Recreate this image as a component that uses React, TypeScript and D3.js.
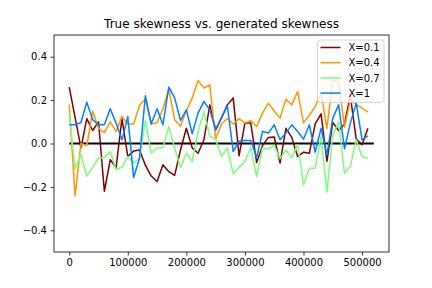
import React, { useEffect, useRef } from 'react';
import * as d3 from 'd3';

// sample positions (0 .. 510000, step 10000)
const steps: number[] = d3.range(0, 520000, 10000);

const skew01: number[] = [
  0.26, 0.12, -0.02, 0.115, 0.06, 0.1, -0.22, -0.075, -0.11, 0.115,
  -0.06, -0.035, -0.03, -0.1, -0.15, -0.175, -0.098, -0.13, -0.147, -0.03,
  0.07, -0.02, -0.045, 0.017, 0.178, 0.063, 0.117, 0.178, 0.21, -0.057,
  0.094, 0.094, -0.088, -0.01, 0.028, 0.03, -0.09, 0.07, 0.028, -0.06,
  -0.04, -0.045, 0.09, 0.137, -0.083, 0.097, 0.06, 0.09, 0.22, 0.02,
  -0.006, 0.07,
];
const skew04: number[] = [
  0.18, -0.24, 0.0, -0.01, 0.15, 0.07, 0.05, 0.1, 0.055, 0.125,
  0.09, 0.09, 0.175, 0.205, 0.09, 0.095, 0.16, 0.25, 0.11, 0.08,
  0.15, 0.21, 0.29, 0.255, 0.27, 0.02, 0.09, 0.115, 0.09, 0.115,
  0.094, 0.105, 0.078, 0.14, 0.186, 0.15, 0.117, 0.204, 0.178, 0.24,
  0.095, 0.13, 0.17, 0.235, 0.07, 0.29, 0.285, 0.075, 0.2, 0.18,
  0.163, 0.145,
];
const skew07: number[] = [
  0.14, -0.12, -0.05, -0.15, -0.11, -0.068, -0.065, -0.037, -0.12, -0.11,
  -0.06, -0.09, -0.068, 0.106, -0.045, -0.02, -0.02, 0.078, -0.02, -0.11,
  -0.045, -0.083, 0.055, 0.147, 0.032, 0.02, -0.06, -0.02, -0.14, -0.11,
  -0.083, -0.02, -0.152, -0.02, -0.025, -0.01, -0.07, -0.03, -0.065, -0.005,
  -0.19, -0.114, -0.114, 0.032, -0.224, 0.04, 0.1, -0.137, -0.106, 0.017,
  -0.06, -0.068,
];
const skew1: number[] = [
  0.086, 0.086, 0.097, 0.19, 0.11, 0.086, 0.086, 0.16, 0.094, 0.017,
  0.124, -0.157, -0.068, 0.22, 0.09, 0.16, 0.086, 0.26, 0.21, 0.106,
  0.155, 0.045, 0.14, 0.194, 0.155, 0.063, 0.12, 0.174, -0.037, 0.012,
  0.014, 0.014, -0.065, 0.055, 0.048, 0.086, 0.017, 0.048, 0.086, 0.055,
  0.02, 0.086, -0.04, 0.07, -0.052, 0.117, 0.178, -0.025, 0.094, 0.186,
  0.017, 0.035,
];

const seriesNames: string[] = ['X=0.1', 'X=0.4', 'X=0.7', 'X=1'];
const seriesColors: string[] = ['#800000', '#ff9700', '#7bff7b', '#0080ff'];
const xTicks: number[] = [0, 100000, 200000, 300000, 400000, 500000];
const yTicks: number[] = [-0.4, -0.2, 0.0, 0.2, 0.4];
const zeroLine: number[] = [0, 520000];

const App = () => {
  const ref = useRef<SVGSVGElement>(null);

  useEffect(() => {
    const margin = { top: 35, right: 43, bottom: 36, left: 54 };
    const width = 432 - margin.left - margin.right;
    const height = 288 - margin.top - margin.bottom;
    const font = 'DejaVu Sans, sans-serif';

    const root = d3.select(ref.current);
    root.selectAll('*').remove();

    root.append('text')
      .attr('x', margin.left + width / 2)
      .attr('y', margin.top - 7)
      .attr('text-anchor', 'middle')
      .attr('font-family', font)
      .attr('font-size', 12)
      .text('True skewness vs. generated skewness');

    const svg = root.append('g')
      .attr('transform', 'translate(' + margin.left + ',' + margin.top + ')');

    const x = d3.scaleLinear().domain([-26000, 546000]).range([0, width]);
    const y = d3.scaleLinear().domain([-0.5, 0.5]).range([height, 0]);

    const fmtY = (d: number) => d3.format('.1f')(d).replace('-', '\u2212');

    const xAxis = svg.append('g')
      .attr('transform', 'translate(0,' + height + ')')
      .call(d3.axisBottom(x).tickValues(xTicks).tickFormat(d3.format('d')).tickSize(3.5).tickPadding(3.5).tickSizeOuter(0));
    const yAxis = svg.append('g')
      .call(d3.axisLeft(y).tickValues(yTicks).tickFormat(fmtY as any).tickSize(3.5).tickPadding(3.5).tickSizeOuter(0));

    [xAxis, yAxis].forEach(a => {
      a.select('.domain').remove();
      a.selectAll('line').attr('stroke', '#000').attr('stroke-width', 0.8);
      a.selectAll('text').attr('font-family', font).attr('font-size', 10).attr('fill', '#000');
    });

    // zero reference line
    svg.append('path')
      .datum(zeroLine)
      .attr('fill', 'none')
      .attr('stroke', '#000')
      .attr('stroke-width', 2)
      .attr('d', d3.line<number>().x(d => x(d)).y(() => y(0)));

    const allSeries = [skew01, skew04, skew07, skew1];
    const line = d3.line<number>()
      .x((d, i) => x(steps[i]))
      .y(d => y(d));

    allSeries.forEach((vals, k) => {
      svg.append('path')
        .datum(vals)
        .attr('fill', 'none')
        .attr('stroke', seriesColors[k])
        .attr('stroke-width', 1.5)
        .attr('stroke-linejoin', 'round')
        .attr('d', line);
    });

    // frame
    svg.append('rect')
      .attr('width', width)
      .attr('height', height)
      .attr('fill', 'none')
      .attr('stroke', '#000')
      .attr('stroke-width', 0.8);

    // legend
    const lg = svg.append('g').attr('transform', 'translate(' + (width - 71.5) + ',5)');
    lg.append('rect')
      .attr('width', 66.5)
      .attr('height', 62.5)
      .attr('rx', 2.5)
      .attr('fill', '#fff')
      .attr('fill-opacity', 0.8)
      .attr('stroke', '#cccccc')
      .attr('stroke-width', 0.8);
    seriesNames.forEach((name, k) => {
      const ry = 7.5 + k * 15.2;
      lg.append('line')
        .attr('x1', 3).attr('x2', 23)
        .attr('y1', ry).attr('y2', ry)
        .attr('stroke', seriesColors[k])
        .attr('stroke-width', 1.5);
      lg.append('text')
        .attr('x', 31)
        .attr('y', ry + 3.6)
        .attr('font-family', font)
        .attr('font-size', 10)
        .text(name);
    });
  });

  return (
    <div style={{ position: 'absolute', left: 0, top: 0 }}>
      <svg ref={ref} width={432} height={288} />
    </div>
  );
};

export default App;
